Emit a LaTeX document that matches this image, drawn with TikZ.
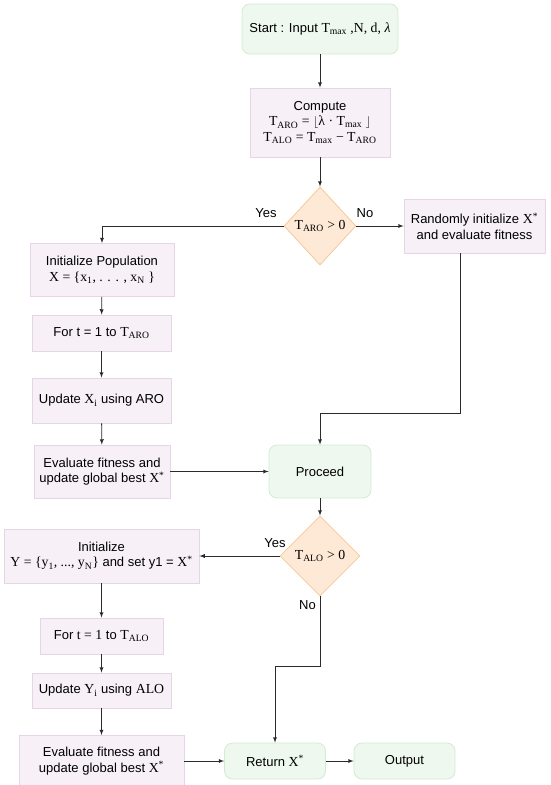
\documentclass[tikz,border=0pt]{standalone}
\usepackage{fontspec}
\setmainfont{Liberation Sans}
\newfontfamily\sr[Scale=1.06]{Liberation Serif}
\usetikzlibrary{shapes.geometric}
\definecolor{procfill}{HTML}{F7F0F7}
\definecolor{procline}{HTML}{E6D5E6}
\definecolor{termfill}{HTML}{EEF8EE}
\definecolor{termline}{HTML}{D3EBD3}
\definecolor{decfill}{HTML}{FDE9D5}
\definecolor{decline}{HTML}{F5C99A}
\definecolor{wire}{HTML}{2B2B2B}
\newcommand{\vsub}[2]{{\sr #1\textsubscript{#2}}}
\newcommand{\xstar}{{\sr X\textsuperscript{*}}}

\begin{document}
\begin{tikzpicture}[x=1pt, y=-1pt]
\tikzset{ >=latex, font=\fontsize{13}{15.5}\selectfont,
  proc/.style={rectangle, draw=procline, fill=procfill, line width=0.8pt, align=center, inner sep=2pt},
  term/.style={rectangle, rounded corners=8pt, draw=termline, fill=termfill, line width=0.8pt, align=center, inner sep=2pt},
  dec/.style={diamond, aspect=1, draw=decline, fill=decfill, line width=0.8pt, inner sep=0pt},
  wirestyle/.style={->, draw=wire, line width=0.85pt},
}

\useasboundingbox (0,0) rectangle (550,785);

%\draw [lightgray, dashed](0,0) grid[step=50] (550,785);

\node [term, minimum width=156pt, minimum height=50pt] (start) at (320,29)
  {Start : Input {\sr T\textsubscript{max} ,N, d, \textit{λ}}};
\node [proc, minimum width=140pt, minimum height=69pt] (comp) at (320,122.5)
  {Compute\\ \vsub{T}{ARO} {\sr = $\lfloor$λ · \vsub{T}{max} $\rfloor$}\\ \vsub{T}{ALO} {\sr = \vsub{T}{max} − \vsub{T}{ARO}}};
\node [dec, minimum width=72pt, minimum height=78pt] (dARO) at (320,226) {\vsub{T}{ARO}{\sr\ > 0}};
\node [proc, minimum width=141pt, minimum height=54pt] (rand) at (474.5,226)
  {Randomly initialize \xstar\\ and evaluate fitness};

\node [proc, minimum width=144pt, minimum height=53pt] (initX) at (102,270)
  {Initialize Population\\ {\sr X = \{x\textsubscript{1}, . . . , x\textsubscript{N} \}}};
\node [proc, minimum width=139pt, minimum height=36pt] (forARO) at (101.5,333) {For t = 1 to \vsub{T}{ARO}};
\node [proc, minimum width=139pt, minimum height=45pt] (updX) at (101.5,400.5) {Update \vsub{X}{i} using ARO};
\node [proc, minimum width=136pt, minimum height=53pt] (evalX) at (102,471.5)
  {Evaluate fitness and\\ update global best \xstar};
\node [term, minimum width=102pt, minimum height=53pt] (proc) at (320,471.5) {Proceed};

\node [dec, minimum width=80pt, minimum height=80pt] (dALO) at (320,556) {\vsub{T}{ALO}{\sr\ > 0}};
\node [proc, minimum width=195pt, minimum height=54pt] (initY) at (101.5,556)
  {Initialize\\ {\sr Y = \{y\textsubscript{1}, ..., y\textsubscript{N}\}} and set y1 = \xstar};
\node [proc, minimum width=123pt, minimum height=36pt] (forALO) at (101.5,636) {For {\sr t = 1} to \vsub{T}{ALO}};
\node [proc, minimum width=139pt, minimum height=35pt] (updY) at (101.5,690.5) {Update \vsub{Y}{i} using {\sr ALO}};
\node [proc, minimum width=165pt, minimum height=51pt] (evalY) at (101.5,761)
  {Evaluate fitness and\\ update global best \xstar};
\node [term, minimum width=101pt, minimum height=36pt] (ret) at (275,761) {Return \xstar};
\node [term, minimum width=101pt, minimum height=36pt] (out) at (404.5,761) {Output};

% bends
\coordinate (r1) at (460,253);
\coordinate (j1) at (320,413);
\coordinate (j2) at (275,666);

\draw [wirestyle] (start) -- (comp);
\draw [wirestyle] (comp) -- (dARO);
\draw [wirestyle] (dARO.west) -| (initX.north);
\draw [wirestyle] (dARO.east) -- (rand.west);
\draw [wirestyle] (r1) |- (j1) -- (proc.north);
\draw [wirestyle] (initX) -- (forARO);
\draw [wirestyle] (forARO) -- (updX);
\draw [wirestyle] (updX) -- (evalX);
\draw [wirestyle] (evalX) -- (proc);
\draw [wirestyle] (proc) -- (dALO);
\draw [wirestyle] (dALO.west) -- (initY.east);
\draw [wirestyle] (dALO.south) |- (j2) -- (ret.north);
\draw [wirestyle] (initY) -- (forALO);
\draw [wirestyle] (forALO) -- (updY);
\draw [wirestyle] (updY) -- (evalY);
\draw [wirestyle] (evalY) -- (ret);
\draw [wirestyle] (ret) -- (out);

\node (yes1) at (266,213) {Yes};
\node (no1) at (365,213) {No};
\node (yes2) at (275,543) {Yes};
\node (no2) at (307.5,605) {No};

\end{tikzpicture}
\end{document}
